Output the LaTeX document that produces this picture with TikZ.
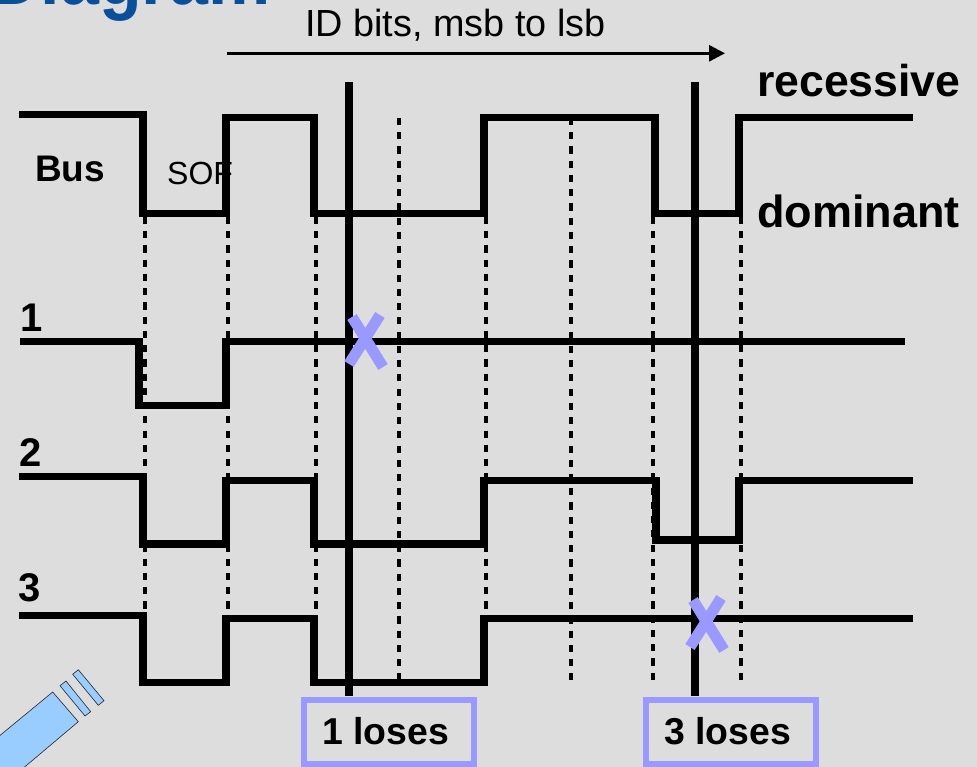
\documentclass[tikz,border=0pt]{standalone}
\usepackage{fontspec}
\setmainfont{Liberation Sans}
\usetikzlibrary{arrows.meta}
\definecolor{bgc}{HTML}{DDDDDD}
\definecolor{lav}{HTML}{9999FF}
\definecolor{titleblue}{HTML}{0A4F9A}
\definecolor{lampblue}{HTML}{99CCFF}
\newcommand{\fs}[1]{\fontsize{#1pt}{#1pt}\selectfont}
\tikzset{
  x=1pt,y=-1pt,
  wave/.style={line width=7.4pt,line cap=butt,line join=miter},
  guide/.style={line width=4pt,dash pattern=on 7.12pt off 7.12pt},
  marker/.style={line width=8pt},
  cross/.style={line width=11pt,draw=lav},
  losebox/.style={draw=lav,line width=6pt,fill=none},
  lamp/.style={fill=lampblue,draw=black!85,line width=0.6pt},
  txt/.style={inner sep=0pt,anchor=base west,text=black},
}
\begin{document}
\begin{tikzpicture}
\path[use as bounding box] (0,0) rectangle (977,767);
\begin{scope}
\clip (0,0) rectangle (977,767);
\fill[bgc] (0,0) rectangle (977,767);
\node[txt,text=titleblue,xscale=0.875] (title) at (-10,5) {\fs{80}\bfseries Diagram};

% guides
\coordinate (g1a) at (145,217); \coordinate (g1b) at (145,680);
\coordinate (g2a) at (228,217); \coordinate (g2b) at (228,680);
\coordinate (g3a) at (316,217); \coordinate (g3b) at (316,680);
\coordinate (g4a) at (399,118); \coordinate (g4b) at (399,680);
\coordinate (g5a) at (486,217); \coordinate (g5b) at (486,680);
\coordinate (g6a) at (571,118); \coordinate (g6b) at (571,680);
\coordinate (g7a) at (653,217); \coordinate (g7b) at (653,680);
\coordinate (g8a) at (741,217); \coordinate (g8b) at (741,680);
\foreach \i in {1,...,8} \draw[guide] (g\i a) -- (g\i b);

% waves
\draw[wave] (19,114.5) -- (143,114.5) -- (143,213.5) -- (226,213.5) -- (226,117.5) -- (314,117.5) -- (314,213.5) -- (484,213.5) -- (484,117.5) -- (655,117.5) -- (655,213.5) -- (739,213.5) -- (739,117.5) -- (913,117.5);
\draw[wave] (20,341.5) -- (139,341.5) -- (139,405.5) -- (226,405.5) -- (226,341.5) -- (905,341.5);
\draw[wave] (19,476.5) -- (143,476.5) -- (143,544) -- (226,544) -- (226,480.5) -- (314,480.5) -- (314,544) -- (484,544) -- (484,480.5) -- (656,480.5) -- (656,540) -- (739,540) -- (739,480.5) -- (913,480.5);
\draw[wave] (19,615.5) -- (143,615.5) -- (143,682.5) -- (226,682.5) -- (226,618.5) -- (314,618.5) -- (314,682.5) -- (484,682.5) -- (484,618.5) -- (913,618.5);

% markers
\coordinate (m1a) at (349,82); \coordinate (m1b) at (349,696);
\coordinate (m2a) at (695,82); \coordinate (m2b) at (695,696);
\draw[marker] (m1a) -- (m1b);
\draw[marker] (m2a) -- (m2b);

% crosses
\draw[cross] (352,317) -- (383,367);
\draw[cross] (380,315) -- (349,364);
\draw[cross] (693,600) -- (724,650);
\draw[cross] (721,598) -- (690,647);

% arrow
\coordinate (arrA) at (227,53.3); \coordinate (arrB) at (725,53.3);
\draw[line width=3pt,-{Triangle[length=16pt,width=16pt]}] (arrA) -- (arrB);

% boxes
\node[losebox,minimum width=170pt,minimum height=64pt,inner sep=0pt] (lose1) at (389,732) {};
\node[losebox,minimum width=170pt,minimum height=64pt,inner sep=0pt] (lose3) at (731,732) {};
\node[txt] (l1) at (322,744) {\fs{37.4}\bfseries 1 loses};
\node[txt] (l3) at (664,744) {\fs{37.4}\bfseries 3 loses};

% labels
\node[txt] (idb) at (305,37) {\fs{37.8}ID bits, msb to lsb};
\node[txt] (bus) at (35,182) {\fs{37}\bfseries Bus};
\node[txt] (sof) at (167,185) {\fs{32}SOF};
\node[txt] (rec) at (757,96.7) {\fs{44.6}\bfseries recessive};
\node[txt] (dom) at (757,228) {\fs{45}\bfseries dominant};
\node[txt] (n1) at (20,331) {\fs{40}\bfseries 1};
\node[txt] (n2) at (19,466) {\fs{40}\bfseries 2};
\node[txt] (n3) at (18,601) {\fs{40}\bfseries 3};

% lamp
\draw[lamp] (52.7,692) -- (78.3,721.7) -- (24,767.5) -- (-5,767.5) -- (-5,739.5) -- cycle;
\draw[lamp] (66,681) -- (90.7,711.7) -- (85,716) -- (60,685.7) -- cycle;
\draw[lamp] (78.3,669.7) -- (104,700.7) -- (98.3,705.3) -- (72.7,674.3) -- cycle;
\end{scope}
\end{tikzpicture}
\end{document}
